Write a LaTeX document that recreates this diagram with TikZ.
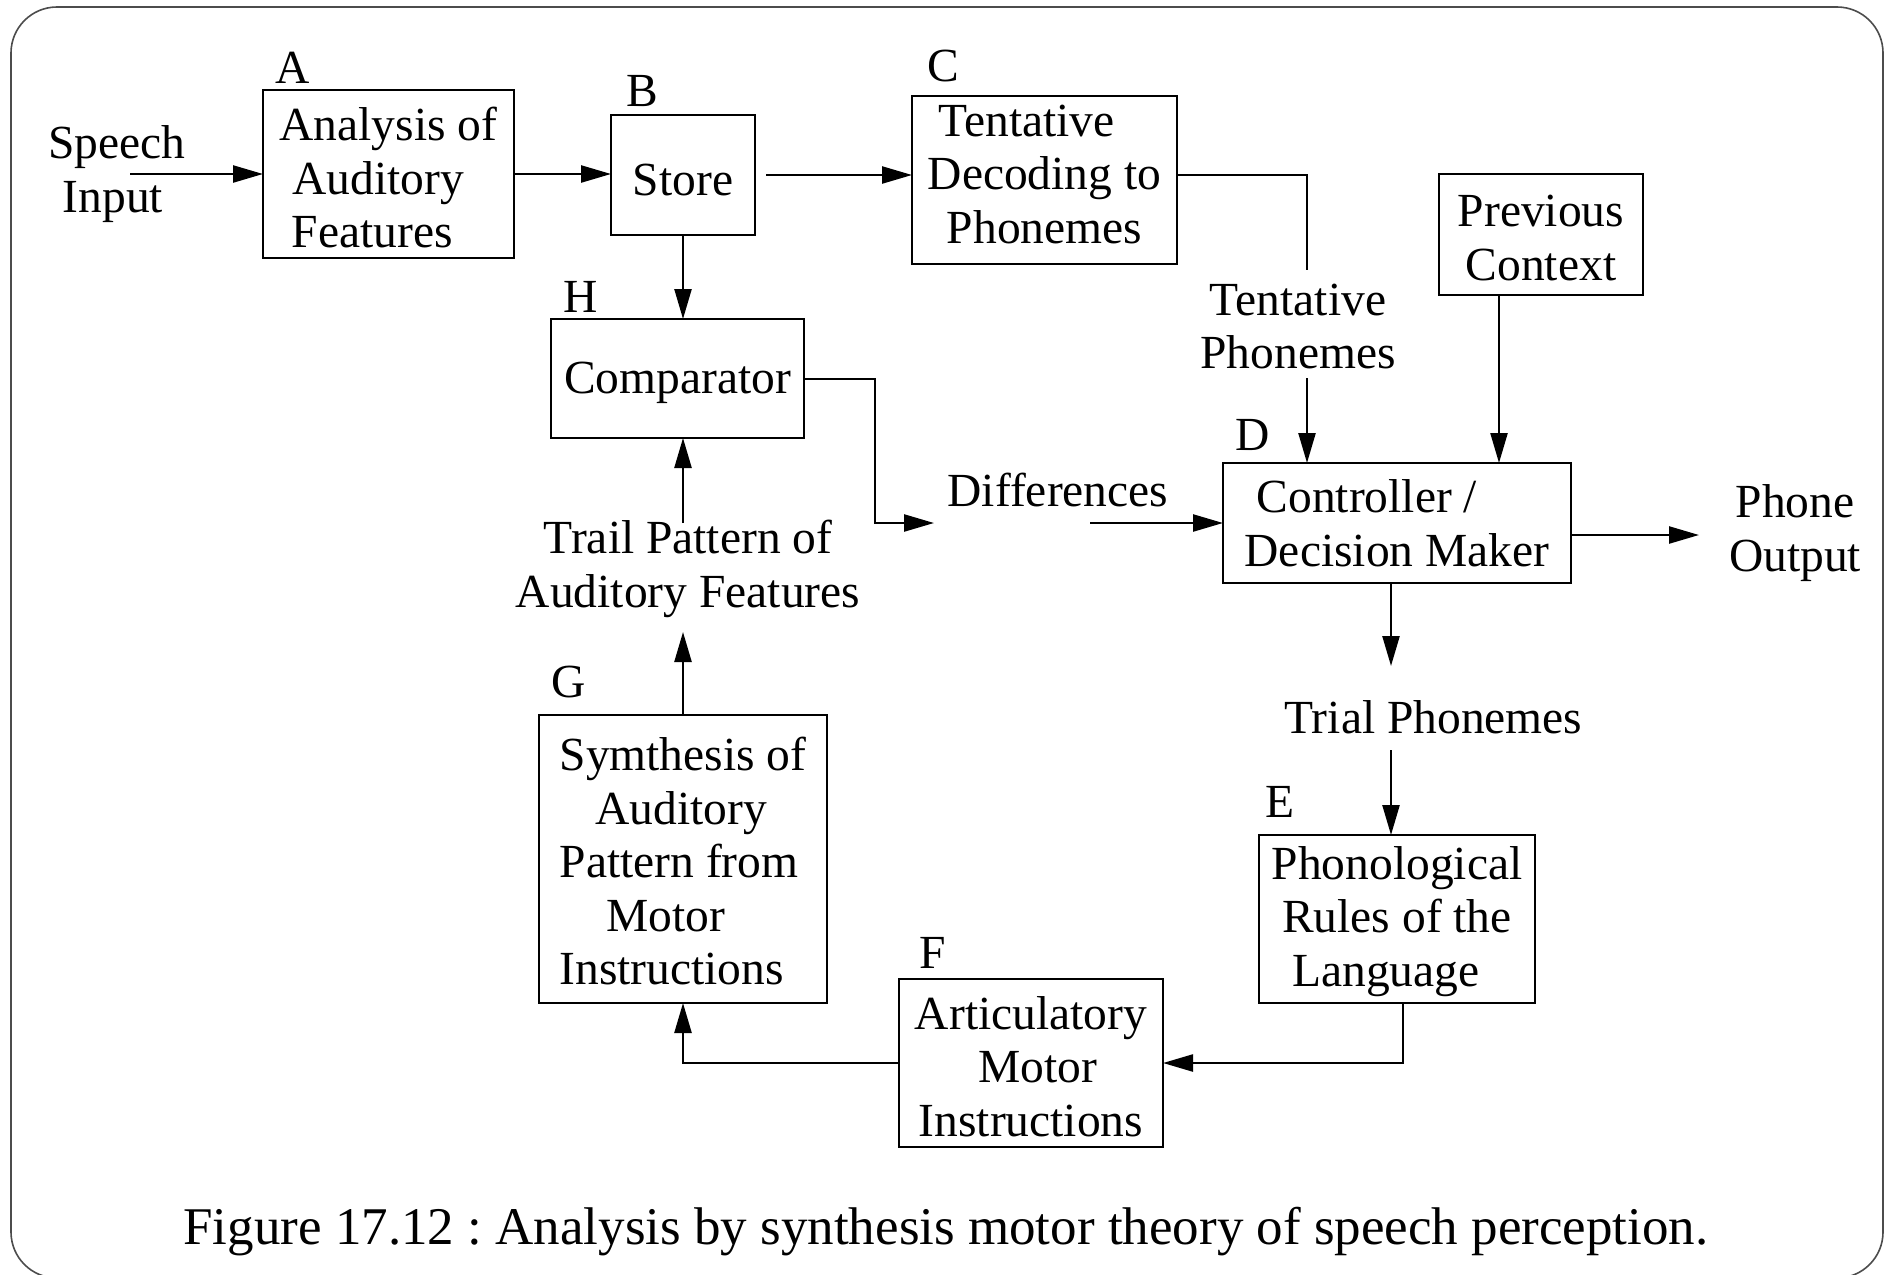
\documentclass[tikz,border=0pt]{standalone}
\usepackage{fontspec}
\setmainfont{Liberation Serif}
\usetikzlibrary{arrows.meta}
\newcommand\topstrut[1]{\rule{0pt}{#1}}
\newcommand\botstrut[1]{\rule[-#1]{0pt}{#1}}
\begin{document}
\frenchspacing
\begin{tikzpicture}[x=1pt,y=-1pt,
  every node/.style={font=\fontsize{47.5pt}{53.5pt}\selectfont, inner sep=0pt, outer sep=0pt},
  blk/.style={draw, line width=2.4pt, align=center},
  lbl/.style={anchor=base},
  conn/.style={line width=2.4pt},
  arr/.style={line width=2.4pt, -{Triangle[length=30pt,width=17pt]}}]
\useasboundingbox (0,0) rectangle (1889,1274);
\clip (0,0) rectangle (1889,1274);
\draw[line width=1.6pt, black!70, rounded corners=46pt] (11,7) rectangle (1883,1278);

% boxes
\node[blk, minimum width=251pt, minimum height=168pt, align=left] (A) at (388.5,174)
  {\topstrut{41pt}Analysis of\\\hspace*{13pt}Auditory\\\hspace*{12pt}Features};
\node[blk, minimum width=144pt, minimum height=120pt] (B) at (683,175) {\topstrut{41pt}Store};
\node[blk, minimum width=265pt, minimum height=168pt] (C) at (1044.5,180)
  {Tentative\hspace*{36pt}\\Decoding to\\Phonemes\botstrut{12pt}};
\node[blk, minimum width=253pt, minimum height=119pt] (H) at (677.5,378.5) {\topstrut{41pt}Comparator};
\node[blk, minimum width=204pt, minimum height=121pt] (P) at (1541,234.5) {\topstrut{38pt}Previous\\Context};
\node[blk, minimum width=348pt, minimum height=120pt, align=left] (D) at (1397,523)
  {\hspace*{12pt}Controller /\\Decision Maker};
\node[blk, minimum width=276pt, minimum height=168pt] (E) at (1397,919)
  {\topstrut{38pt}Phonological\\Rules of the\\Language\hspace*{22pt}};
\node[blk, minimum width=288pt, minimum height=288pt, align=left] (G) at (683,859)
  {\topstrut{38pt}Symthesis of\\\hspace*{36pt}Auditory\\Pattern from\\\hspace*{47pt}Motor\\Instructions};
\node[blk, minimum width=264pt, minimum height=168pt] (F) at (1031,1063)
  {\topstrut{40pt}Articulatory\\\hspace*{14pt}Motor\\Instructions};

% letters
\node[lbl] (lA) at (293,83) {A};
\node[lbl] (lB) at (642,106) {B};
\node[lbl] (lC) at (943,81) {C};
\node[lbl] (lH) at (581,312) {H};
\node[lbl] (lD) at (1253,450) {D};
\node[lbl] (lE) at (1280,817) {E};
\node[lbl] (lG) at (569,697) {G};
\node[lbl] (lF) at (933,968) {F};

% free texts
\node[align=center] (sp) at (117,174) {Speech\\Input\hspace*{8pt}};
\node[align=center] (tp) at (1298,326.5) {Tentative\\Phonemes};
\node[lbl] (df) at (1058,506) {Differences};
\node[align=center] (tr) at (688,569) {Trail Pattern of\\Auditory Features};
\node[align=center] (po) at (1795,533) {Phone\\Output};
\node[lbl] (tl) at (1433.5,733) {Trial Phonemes};
\node[lbl, font=\fontsize{53pt}{60pt}\selectfont] (cap) at (946,1244) {Figure 17.12 : Analysis by synthesis motor theory of speech perception.};

% coordinates
\coordinate (spE) at (130,174);
\coordinate (bO) at (766,175);
\coordinate (cT) at (1307,175);
\coordinate (tpT) at (1307,270);
\coordinate (tpB) at (1307,378);
\coordinate (hR) at (875,379);
\coordinate (hD) at (875,523);
\coordinate (dfL) at (934,523);
\coordinate (dfR) at (1090,523);
\coordinate (trT) at (683,523);
\coordinate (trB) at (683,632);
\coordinate (poL) at (1699,535);
\coordinate (tlT) at (1391,666);
\coordinate (tlB) at (1391,750);
\coordinate (eC) at (1403,1063);
\coordinate (gC) at (683,1063);

% connectors
\draw[arr] (spE) -- (spE -| A.west);
\draw[arr] (A.east) -- (A.east -| B.west);
\draw[arr] (bO) -- (bO -| C.west);
\draw[conn] (cT -| C.east) -- (cT) -- (tpT);
\draw[arr] (tpB) -- (tpB |- D.north);
\draw[arr] (P.south -| 1499,0) -- (D.north -| 1499,0);
\draw[arr] (B.south) -- (B.south |- H.north);
\draw[arr] (hR -| H.east) -- (hR) -- (hD) -- (dfL);
\draw[arr] (dfR) -- (dfR -| D.west);
\draw[arr] (trT) -- (trT |- H.south);
\draw[arr] (G.north) -- (trB);
\draw[arr] (poL -| D.east) -- (poL);
\draw[arr] (tlT |- D.south) -- (tlT);
\draw[arr] (tlB) -- (tlB |- E.north);
\draw[arr] (eC |- E.south) -- (eC) -- (eC -| F.east);
\draw[arr] (gC -| F.west) -- (gC) -- (gC |- G.south);
\end{tikzpicture}
\end{document}
